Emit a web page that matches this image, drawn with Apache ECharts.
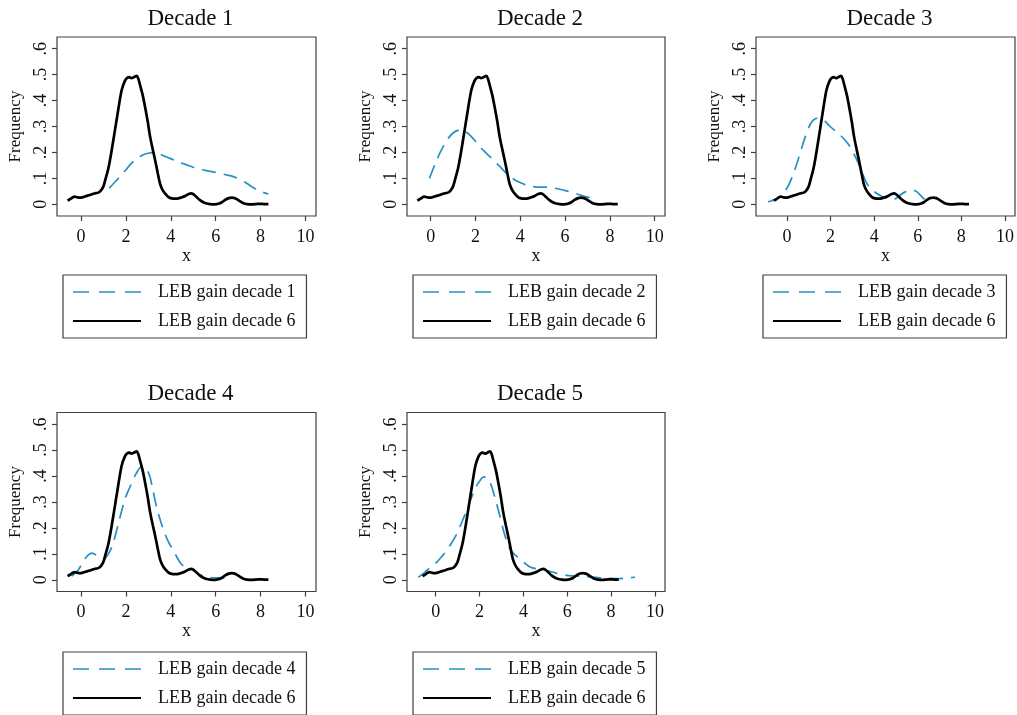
<!DOCTYPE html>
<html>
<head>
<meta charset="utf-8">
<script src="https://cdn.jsdelivr.net/npm/echarts@6/dist/echarts.min.js"></script>
<style>
html,body{margin:0;padding:0;background:#fff;}
#c{width:1017px;height:715px;}
</style>
</head>
<body>
<div id="c"></div>
<script>
// ---- data ----
const xTicks = [0, 2, 4, 6, 8, 10];
const yTicks = [0, 0.1, 0.2, 0.3, 0.4, 0.5, 0.6];
const panelTitles = ['Decade 1', 'Decade 2', 'Decade 3', 'Decade 4', 'Decade 5'];
const seriesNames = ['LEB gain decade 1', 'LEB gain decade 2', 'LEB gain decade 3', 'LEB gain decade 4', 'LEB gain decade 5'];
const refName = 'LEB gain decade 6';

const decade6 = [[-0.6,0.014],[-0.45,0.022],[-0.3,0.03],[-0.15,0.027],[0,0.026],[0.2,0.031],[0.4,0.036],[0.6,0.042],[0.77,0.045],[0.9,0.055],[1.0,0.07],[1.1,0.1],[1.22,0.139],[1.35,0.2],[1.52,0.29],[1.65,0.36],[1.81,0.44],[1.95,0.475],[2.05,0.487],[2.15,0.49],[2.25,0.486],[2.35,0.49],[2.48,0.495],[2.55,0.485],[2.63,0.46],[2.75,0.42],[2.85,0.377],[2.97,0.32],[3.08,0.26],[3.2,0.21],[3.3,0.171],[3.42,0.12],[3.52,0.08],[3.62,0.058],[3.74,0.042],[3.9,0.028],[4.04,0.023],[4.2,0.022],[4.34,0.023],[4.5,0.027],[4.64,0.032],[4.8,0.04],[4.93,0.042],[5.05,0.036],[5.16,0.027],[5.3,0.016],[5.45,0.008],[5.6,0.003],[5.75,0.001],[5.95,0.0],[6.12,0.002],[6.28,0.008],[6.42,0.017],[6.58,0.024],[6.72,0.026],[6.85,0.024],[6.94,0.02],[7.1,0.011],[7.24,0.004],[7.4,0.001],[7.61,0],[7.8,0.001],[7.98,0.002],[8.15,0.001],[8.35,0.001]];

const decade1 = [[1.26,0.062],[1.5,0.085],[1.74,0.107],[2.0,0.133],[2.18,0.152],[2.4,0.17],[2.63,0.184],[2.8,0.192],[3.0,0.197],[3.2,0.199],[3.37,0.197],[3.6,0.19],[3.97,0.177],[4.3,0.165],[4.71,0.152],[5.0,0.143],[5.3,0.135],[5.7,0.128],[6.05,0.122],[6.4,0.115],[6.79,0.107],[7.1,0.095],[7.38,0.081],[7.7,0.063],[7.98,0.05],[8.35,0.04]];

const decade2 = [[-0.06,0.10],[0.1,0.135],[0.27,0.171],[0.45,0.205],[0.64,0.235],[0.82,0.259],[1.01,0.276],[1.2,0.285],[1.38,0.287],[1.55,0.281],[1.75,0.267],[2.0,0.243],[2.2,0.222],[2.42,0.202],[2.64,0.184],[2.86,0.165],[3.09,0.145],[3.3,0.126],[3.54,0.107],[3.8,0.092],[4.06,0.081],[4.3,0.073],[4.58,0.068],[4.9,0.066],[5.17,0.066],[5.47,0.063],[5.77,0.058],[6.06,0.052],[6.36,0.045],[6.6,0.038],[6.81,0.032],[7.1,0.026],[7.4,0.022]];

const decade3 = [[-0.87,0.01],[-0.7,0.014],[-0.53,0.019],[-0.38,0.026],[-0.23,0.036],[-0.08,0.052],[0.08,0.075],[0.27,0.112],[0.46,0.158],[0.65,0.21],[0.84,0.261],[1.0,0.297],[1.15,0.319],[1.3,0.33],[1.45,0.332],[1.6,0.329],[1.75,0.32],[1.98,0.3],[2.2,0.284],[2.44,0.267],[2.67,0.247],[2.9,0.222],[3.1,0.19],[3.28,0.158],[3.47,0.118],[3.66,0.081],[3.9,0.057],[4.12,0.042],[4.35,0.031],[4.58,0.023],[4.75,0.02],[4.89,0.019],[5.05,0.026],[5.19,0.036],[5.4,0.047],[5.65,0.055],[5.8,0.054],[5.95,0.049],[6.1,0.037],[6.26,0.023],[6.49,0.01]];

const decade4 = [[-0.42,0.014],[-0.27,0.025],[-0.12,0.038],[0.03,0.06],[0.18,0.081],[0.33,0.096],[0.48,0.103],[0.63,0.098],[0.77,0.09],[0.92,0.085],[1.07,0.085],[1.22,0.1],[1.37,0.126],[1.52,0.168],[1.66,0.215],[1.81,0.265],[1.96,0.312],[2.15,0.352],[2.33,0.388],[2.48,0.413],[2.63,0.433],[2.75,0.438],[2.85,0.436],[2.97,0.42],[3.08,0.395],[3.22,0.34],[3.37,0.28],[3.55,0.225],[3.74,0.177],[3.93,0.14],[4.12,0.113],[4.3,0.083],[4.49,0.058],[4.6,0.053],[4.71,0.051],[4.85,0.045],[5.0,0.036],[5.3,0.02],[5.6,0.01],[5.9,0.008],[6.2,0.008],[6.45,0.006],[6.72,0.004]];

const decade5 = [[-0.79,0.01],[-0.6,0.022],[-0.41,0.036],[-0.18,0.052],[0.05,0.068],[0.28,0.09],[0.5,0.113],[0.73,0.143],[0.96,0.177],[1.18,0.22],[1.41,0.267],[1.6,0.31],[1.79,0.35],[1.9,0.368],[2.02,0.382],[2.1,0.392],[2.2,0.397],[2.3,0.395],[2.4,0.388],[2.55,0.36],[2.7,0.318],[2.9,0.255],[3.09,0.19],[3.24,0.15],[3.39,0.119],[3.6,0.097],[3.84,0.081],[4.07,0.064],[4.3,0.049],[4.53,0.044],[4.76,0.042],[5.06,0.036],[5.36,0.029],[5.66,0.022],[5.97,0.017],[6.35,0.015],[6.73,0.013],[7.1,0.011],[7.49,0.008],[7.95,0.006],[8.4,0.005],[8.75,0.007],[9.09,0.01]];

const panelData = [decade1, decade2, decade3, decade4, decade5];

// ---- layout ----
const grids = [
  {left:57, top:37, width:259, height:179},
  {left:407, top:37, width:258, height:179},
  {left:756, top:37, width:259, height:179},
  {left:57, top:412.5, width:259, height:179},
  {left:407, top:412.5, width:258, height:179}
];
const xExt = [[-1.07,10.47],[-1.06,10.46],[-1.42,10.46],[-1.07,10.47],[-1.31,10.46]];
const legendPos = [[63,275],[413,275],[763,275],[63,652],[413,652]];

const SERIF = '"Liberation Serif","Times New Roman",serif';
const TXT = '#111';
const BOX = '#404040';
const BLUE = '#2590c4';

const option = {
  backgroundColor: '#fff',
  animation: false,
  title: [], grid: [], xAxis: [], yAxis: [], series: [], legend: []
};

grids.forEach((g, i) => {
  option.grid.push(Object.assign({show:true, borderColor:BOX, borderWidth:1.2, backgroundColor:'transparent', containLabel:false}, g));
  option.title.push({
    text: panelTitles[i],
    left: g.left + g.width/2 - 1,
    top: g.top - 35,
    textAlign: 'center',
    textStyle: {fontFamily:SERIF, fontSize:23, fontWeight:'normal', color:TXT}
  });
  option.xAxis.push({
    type:'value', gridIndex:i, min:xExt[i][0], max:xExt[i][1], position:'bottom',
    name:'x', nameLocation:'middle', nameGap:30,
    nameTextStyle:{fontFamily:SERIF, fontSize:18, color:TXT},
    axisLine:{show:false, onZero:false},
    axisTick:{show:true, inside:false, length:5, customValues:xTicks, lineStyle:{color:BOX, width:1.2}},
    axisLabel:{customValues:xTicks, margin:12, fontFamily:SERIF, fontSize:18, color:TXT},
    splitLine:{show:false}
  });
  option.yAxis.push({
    type:'value', gridIndex:i, min:-0.045, max:0.645, position:'left',
    name:'Frequency', nameLocation:'middle', nameGap:33,
    nameTextStyle:{fontFamily:SERIF, fontSize:17, color:TXT},
    axisLine:{show:false, onZero:false},
    axisTick:{show:true, inside:false, length:5, customValues:yTicks, lineStyle:{color:BOX, width:1.2}},
    axisLabel:{customValues:yTicks, rotate:90, margin:7, fontFamily:SERIF, fontSize:18, color:TXT,
      formatter: v => { const s = (+v).toFixed(1); return s === '0.0' ? '0' : s.replace(/^0/, ''); }},
    splitLine:{show:false}
  });
  option.series.push({
    type:'line', name:seriesNames[i], xAxisIndex:i, yAxisIndex:i,
    data:panelData[i], symbol:'none', smooth:0.3,
    lineStyle:{color:BLUE, width:1.7, type:[14,8]},
    itemStyle:{color:BLUE}, z:2
  });
  option.series.push({
    type:'line', name:refName, xAxisIndex:i, yAxisIndex:i,
    data:decade6, symbol:'none', smooth:0.3,
    lineStyle:{color:'#000', width:2.7, type:'solid'},
    itemStyle:{color:'#000'}, z:3
  });
  option.legend.push({
    left:legendPos[i][0], top:legendPos[i][1], orient:'vertical',
    data:[
      {name:seriesNames[i], lineStyle:{type:[16,10], width:1.7, color:BLUE}},
      {name:refName}
    ],
    itemWidth:68, itemHeight:14, itemGap:9,
    padding:[7, 11, 7, 9],
    borderColor:BOX, borderWidth:1.2, borderRadius:0,
    selectedMode:false,
    itemStyle:{opacity:0},
    textStyle:{fontFamily:SERIF, fontSize:18, color:TXT, lineHeight:20, padding:[0,0,0,12]}
  });
});

const chart = echarts.init(document.getElementById('c'), null, {renderer:'canvas'});
chart.setOption(option);
</script>
</body>
</html>
